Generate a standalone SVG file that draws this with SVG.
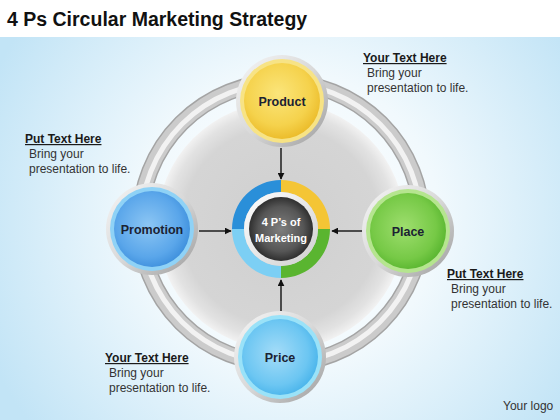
<svg xmlns="http://www.w3.org/2000/svg" width="560" height="420" viewBox="0 0 560 420">
<defs>
  <radialGradient id="bg" cx="290" cy="220" r="330" gradientUnits="userSpaceOnUse">
    <stop offset="0" stop-color="#ffffff"/>
    <stop offset="0.45" stop-color="#f1f9fd"/>
    <stop offset="1" stop-color="#c2e4f6"/>
  </radialGradient>
  <radialGradient id="disc" cx="0.5" cy="0.5" r="0.5">
    <stop offset="0" stop-color="#cfcfcf"/>
    <stop offset="0.8" stop-color="#d5d5d5"/>
    <stop offset="0.92" stop-color="#e2e2e2"/>
    <stop offset="1" stop-color="#f2f2f2"/>
  </radialGradient>
  <linearGradient id="silver" x1="0" y1="0" x2="1" y2="1">
    <stop offset="0" stop-color="#f6f6f6"/>
    <stop offset="0.5" stop-color="#d9d9d9"/>
    <stop offset="1" stop-color="#9c9c9c"/>
  </linearGradient>
  <radialGradient id="gY" cx="0.45" cy="0.4" r="0.6">
    <stop offset="0" stop-color="#fbe57a"/>
    <stop offset="0.7" stop-color="#f5d24c"/>
    <stop offset="1" stop-color="#ecbd2c"/>
  </radialGradient>
  <radialGradient id="gB" cx="0.45" cy="0.45" r="0.6">
    <stop offset="0" stop-color="#8cc6f4"/>
    <stop offset="0.7" stop-color="#5aa6ea"/>
    <stop offset="1" stop-color="#3b8ddb"/>
  </radialGradient>
  <radialGradient id="gG" cx="0.45" cy="0.45" r="0.6">
    <stop offset="0" stop-color="#9ede6e"/>
    <stop offset="0.7" stop-color="#76c946"/>
    <stop offset="1" stop-color="#55b32d"/>
  </radialGradient>
  <radialGradient id="gC" cx="0.45" cy="0.45" r="0.6">
    <stop offset="0" stop-color="#a4dcf8"/>
    <stop offset="0.7" stop-color="#6cc6f2"/>
    <stop offset="1" stop-color="#45b2ea"/>
  </radialGradient>
  <radialGradient id="dark" cx="0.5" cy="0.5" r="0.5">
    <stop offset="0" stop-color="#7e7e7e"/>
    <stop offset="0.7" stop-color="#565656"/>
    <stop offset="1" stop-color="#2f2f2f"/>
  </radialGradient>
  <linearGradient id="whiteRing" x1="0" y1="0" x2="1" y2="1">
    <stop offset="0" stop-color="#ffffff"/>
    <stop offset="1" stop-color="#cfcfcf"/>
  </linearGradient>
  <marker id="arr" viewBox="0 0 10 10" refX="9" refY="5" markerWidth="7" markerHeight="7" orient="auto" markerUnits="userSpaceOnUse">
    <path d="M0,0 L10,5 L0,10 Z" fill="#111"/>
  </marker>
  <style>
    .title{font-family:"Liberation Sans",Arial,sans-serif;font-weight:bold;font-size:19.5px;fill:#111}
    .hd{font-family:"Liberation Sans",Arial,sans-serif;font-weight:bold;font-size:12px;fill:#1a1a1a;text-decoration:underline}
    .bd{font-family:"Liberation Sans",Arial,sans-serif;font-size:12px;fill:#333}
    .lbl{font-family:"Liberation Sans",Arial,sans-serif;font-weight:bold;font-size:12.5px;fill:#1b2233;text-anchor:middle}
    .ctr{font-family:"Liberation Sans",Arial,sans-serif;font-weight:bold;font-size:11px;fill:#ffffff;text-anchor:middle}
    .conn line{stroke:#111;stroke-width:1.4;marker-end:url(#arr)}
  </style>
</defs>

<!-- background -->
<rect x="0" y="0" width="560" height="420" fill="url(#bg)"/>
<rect x="0" y="0" width="560" height="37" fill="#ffffff"/>

<text class="title" x="7" y="26">4 Ps Circular Marketing Strategy</text>

<!-- big ring and disc -->
<g id="ring">
  <circle cx="281" cy="223" r="141" fill="none" stroke="#a4a4a4" stroke-width="17"/>
  <circle cx="281" cy="223" r="141" fill="none" stroke="#cbcbcb" stroke-width="14"/>
  <circle cx="281" cy="223" r="140" fill="none" stroke="#f2f2f2" stroke-width="5"/>
  <circle cx="281" cy="226" r="124" fill="url(#disc)"/>
</g>

<!-- center donut -->
<g id="center">
  <path d="M232,229 A49,49 0 0 1 281,180 L281,192 A37,37 0 0 0 244,229 Z" fill="#2a8fd9"/>
  <path d="M281,180 A49,49 0 0 1 330,229 L318,229 A37,37 0 0 0 281,192 Z" fill="#f4c535"/>
  <path d="M330,229 A49,49 0 0 1 281,278 L281,266 A37,37 0 0 0 318,229 Z" fill="#5ab530"/>
  <path d="M281,278 A49,49 0 0 1 232,229 L244,229 A37,37 0 0 0 281,266 Z" fill="#7ccff4"/>
  <circle cx="281" cy="229" r="37" fill="url(#whiteRing)"/>
  <circle cx="281" cy="229" r="32" fill="url(#dark)"/>
  <text class="ctr" x="281" y="226">4 P’s of</text>
  <text class="ctr" x="281" y="242">Marketing</text>
</g>

<!-- connectors -->
<g id="connectors" class="conn">
  <line x1="281" y1="148" x2="281" y2="179"/>
  <line x1="199" y1="231" x2="231" y2="231"/>
  <line x1="363" y1="231" x2="332" y2="231"/>
  <line x1="281" y1="311" x2="281" y2="280"/>
</g>

<!-- nodes -->
<g id="product">
  <circle cx="282" cy="101" r="46" fill="url(#silver)"/>
  <circle cx="282" cy="101" r="42" fill="#f7e385"/>
  <circle cx="282" cy="101" r="38" fill="url(#gY)"/>
  <text class="lbl" x="282" y="105.5">Product</text>
</g>
<g id="promotion">
  <circle cx="152" cy="229" r="46" fill="url(#silver)"/>
  <circle cx="152" cy="229" r="42" fill="#8fd2f6"/>
  <circle cx="152" cy="229" r="38" fill="url(#gB)"/>
  <text class="lbl" x="152" y="233.5">Promotion</text>
</g>
<g id="place">
  <circle cx="408" cy="231" r="46" fill="url(#silver)"/>
  <circle cx="408" cy="231" r="42" fill="#b5e58f"/>
  <circle cx="408" cy="231" r="38" fill="url(#gG)"/>
  <text class="lbl" x="408" y="235.5">Place</text>
</g>
<g id="price">
  <circle cx="280" cy="357" r="46" fill="url(#silver)"/>
  <circle cx="280" cy="357" r="42" fill="#9ae2f8"/>
  <circle cx="280" cy="357" r="38" fill="url(#gC)"/>
  <text class="lbl" x="280" y="361.5">Price</text>
</g>

<!-- text blocks -->
<g id="note-tr">
  <text class="hd" x="363" y="62">Your Text Here</text>
  <text class="bd" x="367" y="77">Bring your</text>
  <text class="bd" x="367" y="92">presentation to life.</text>
</g>
<g id="note-tl">
  <text class="hd" x="25" y="143">Put Text Here</text>
  <text class="bd" x="29" y="158">Bring your</text>
  <text class="bd" x="29" y="173">presentation to life.</text>
</g>
<g id="note-br">
  <text class="hd" x="447" y="278">Put Text Here</text>
  <text class="bd" x="451" y="293">Bring your</text>
  <text class="bd" x="451" y="308">presentation to life.</text>
</g>
<g id="note-bl">
  <text class="hd" x="105" y="362">Your Text Here</text>
  <text class="bd" x="109" y="377">Bring your</text>
  <text class="bd" x="109" y="392">presentation to life.</text>
</g>
<text class="bd" x="503" y="410">Your logo</text>
</svg>
